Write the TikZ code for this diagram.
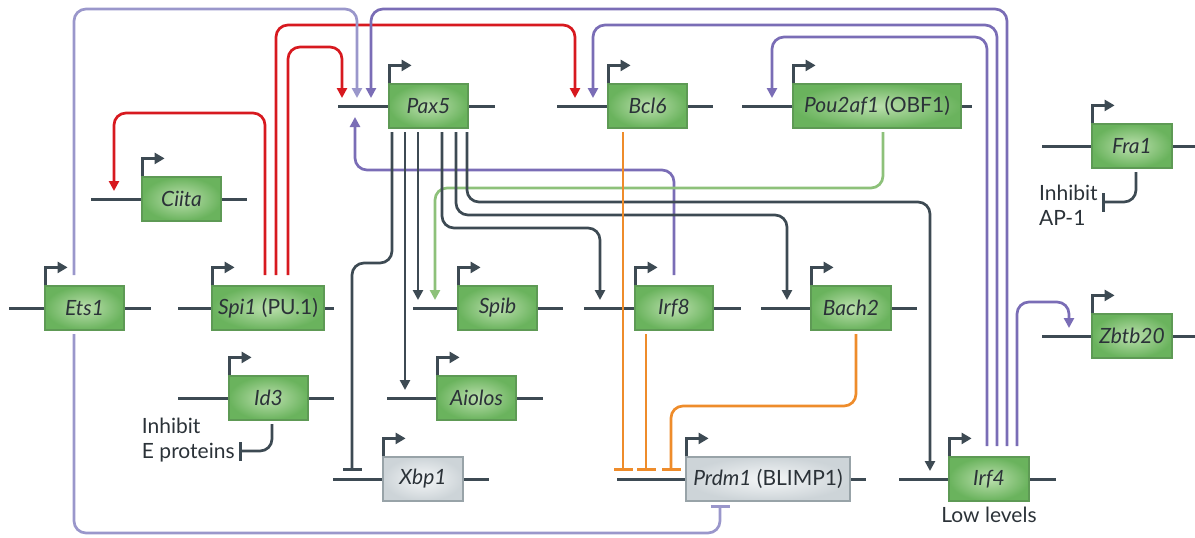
\documentclass[tikz,border=0pt]{standalone}
\usepackage{fontspec}
\setmainfont{Lato}
\usetikzlibrary{arrows.meta,positioning}
\definecolor{dnaInk}{HTML}{3D4A53}
\definecolor{textInk}{HTML}{2B3238}
\definecolor{spiRed}{HTML}{D7191F}
\definecolor{etsLavender}{HTML}{9A97CB}
\definecolor{irfPurple}{HTML}{7A6DB6}
\definecolor{obfGreen}{HTML}{8DC17A}
\definecolor{repOrange}{HTML}{EE8C2B}
\definecolor{boxInner}{HTML}{BCE0AE}
\definecolor{boxOuter}{HTML}{6AB35D}
\definecolor{boxEdge}{HTML}{5E9A55}
\definecolor{greyInner}{HTML}{F5F7F8}
\definecolor{greyOuter}{HTML}{CDD4D8}
\definecolor{greyEdge}{HTML}{98A3A8}
\tikzset{
  gene box/.style={
    draw=boxEdge,
    inner color=boxInner,
    outer color=boxOuter,
    line width=0.6pt,
    minimum height=22pt,
    inner sep=0pt,
    font=\fontsize{10.5}{12}\selectfont,
    text=textInk
  },
  grey box/.style={
    gene box,
    draw=greyEdge,
    inner color=greyInner,
    outer color=greyOuter
  },
  dna/.style={
    draw=dnaInk,
    line width=1.5pt
  },
  promoter/.style={
    draw=dnaInk,
    line width=1.4pt,
    -{Triangle[length=5pt,width=5.5pt]}
  },
  link/.style={
    line width=1.35pt,
    rounded corners=6pt,
    -{Triangle[length=5pt,width=5pt]}
  },
  block/.style={
    line width=1.35pt,
    rounded corners=6pt,
    -{Bar[width=9.5pt,line width=1.35pt]}
  },
  pax link/.style={link,draw=dnaInk},
  spi link/.style={link,draw=spiRed},
  ets link/.style={link,draw=etsLavender},
  irf link/.style={link,draw=irfPurple},
  obf link/.style={link,draw=obfGreen},
  note/.style={
    font=\fontsize{10.5}{12.5}\selectfont,
    text=textInk,
    align=left,
    inner sep=0pt
  }
}
% #1 name, #2 box style, #3 centre x, #4 line y, #5 box width,
% #6 line start, #7 line end, #8 label
\newcommand{\gene}[8]{%
  \draw[dna] (#6,#4) -- (#7,#4);
  \node[#2,minimum width=#5] (#1) at (#3,#4) {#8};
  \draw[promoter] ([xshift=0.6pt]#1.north west) -- ++(0,9pt) -- ++(11pt,0);
  \coordinate (#1-up) at (#3,#4-8);
  \coordinate (#1-dn) at (#3,#4+11);
  \coordinate (#1-top) at (#3,#4-33);
  \coordinate (#1-bot) at (#3,#4+26);
}

\begin{document}
\begin{tikzpicture}[x=0.5pt,y=-0.5pt]
  \useasboundingbox (0,0) rectangle (1195,537);

  % genes
  \gene{ets1}{gene box}{84.5}{308}{39.5pt}{9}{151}{\textit{Ets1}}
  \gene{spi1}{gene box}{268}{308}{56pt}{178}{334}{\textit{Spi1} (PU.1)}
  \gene{ciita}{gene box}{181.5}{199}{39.5pt}{91}{247}{\textit{Ciita}}
  \gene{id3}{gene box}{268.5}{398}{39.5pt}{178}{334}{\textit{Id3}}
  \gene{pax5}{gene box}{428.5}{106}{39.5pt}{338}{495}{\textit{Pax5}}
  \gene{bcl6}{gene box}{647.5}{106}{39.5pt}{557}{713}{\textit{Bcl6}}
  \gene{pou}{gene box}{877}{106}{84pt}{742}{972}{\textit{Pou2af1} (OBF1)}
  \gene{fra1}{gene box}{1132}{146}{40pt}{1042}{1195}{\textit{Fra1}}
  \gene{spib}{gene box}{497.5}{308}{39.5pt}{413}{563}{\textit{Spib}}
  \gene{aiolos}{gene box}{476.5}{398}{39.5pt}{387}{543}{\textit{Aiolos}}
  \gene{xbp1}{grey box}{423}{479}{40pt}{333}{489}{\textit{Xbp1}}
  \gene{irf8}{gene box}{674}{308}{39pt}{584}{741}{\textit{Irf8}}
  \gene{prdm1}{grey box}{768}{479}{82pt}{617}{866}{\textit{Prdm1} (BLIMP1)}
  \gene{bach2}{gene box}{851}{308}{40pt}{761}{917}{\textit{Bach2}}
  \gene{irf4}{gene box}{989}{479}{40pt}{899}{1056}{\textit{Irf4}}
  \gene{zbtb20}{gene box}{1132}{336}{40pt}{1042}{1195}{\textit{Zbtb20}}

  % PU.1 targets
  \draw[spi link] (spi1-top -| 265,0) |- (114,113) -- (ciita-up -| 114,0);
  \draw[spi link] (spi1-top -| 276,0) |- (575,25) -- (bcl6-up -| 575,0);
  \draw[spi link] (spi1-top -| 288,0) |- (342,47) -- (pax5-up -| 342,0);

  % Ets1
  \draw[ets link] (ets1-top -| 74,0) |- (357,9) -- (pax5-up -| 357,0);
  \draw[block,draw=etsLavender] (ets1-bot -| 74,0) |- (720,533) -- (prdm1-bot -| 720,0);

  % Irf4 and Irf8
  \draw[irf link] (irf4-top -| 1007,0) |- (371,9) -- (pax5-up -| 371,0);
  \draw[irf link] (irf4-top -| 997,0) |- (593,25) -- (bcl6-up -| 593,0);
  \draw[irf link] (irf4-top -| 987,0) |- (772,37) -- (pou-up -| 772,0);
  \draw[irf link] (irf4-top -| 1017,0) |- (1069,302) -- (zbtb20-up -| 1069,0);
  \draw[irf link] (irf8-top -| 674,0) |- (355,170) -- (pax5-dn -| 355,0);

  % OBF1
  \draw[obf link] (pou-bot -| 883,0) |- (435,188) -- (spib-up -| 435,0);

  % Pax5 targets
  \draw[block,draw=dnaInk] (pax5-bot -| 392,0) |- (352,263) -- (xbp1-up -| 352,0);
  \draw[pax link] (pax5-bot -| 405,0) -- (aiolos-up -| 405,0);
  \draw[pax link] (pax5-bot -| 418,0) -- (spib-up -| 418,0);
  \draw[pax link] (pax5-bot -| 442,0) |- (600,228) -- (irf8-up -| 600,0);
  \draw[pax link] (pax5-bot -| 456,0) |- (787,215) -- (bach2-up -| 787,0);
  \draw[pax link] (pax5-bot -| 467,0) |- (930,202) -- (irf4-up -| 930,0);

  % repressors of Prdm1
  \draw[block,draw=repOrange] (bcl6-bot -| 623,0) -- (prdm1-up -| 623,0);
  \draw[block,draw=repOrange] (irf8-bot -| 646,0) -- (prdm1-up -| 646,0);
  \draw[block,draw=repOrange] (bach2-bot -| 856,0) |- (671,406) -- (prdm1-up -| 671,0);

  % side effects
  \draw[block,draw=dnaInk] (id3-bot -| 272,0) |- (239,451) coordinate (id3-inh);
  \node[note,anchor=east] (id3-note) at ([shift={(-4,-11)}]id3-inh) {Inhibit\\E proteins};
  \draw[block,draw=dnaInk] (fra1-bot -| 1136,0) |- (1102,202) coordinate (fra1-inh);
  \node[note,anchor=east] (fra1-note) at ([shift={(-4,3)}]fra1-inh) {Inhibit\\AP-1};
  \node[note,below=2.5pt of irf4] (irf4-note) {Low levels};
\end{tikzpicture}
\end{document}
